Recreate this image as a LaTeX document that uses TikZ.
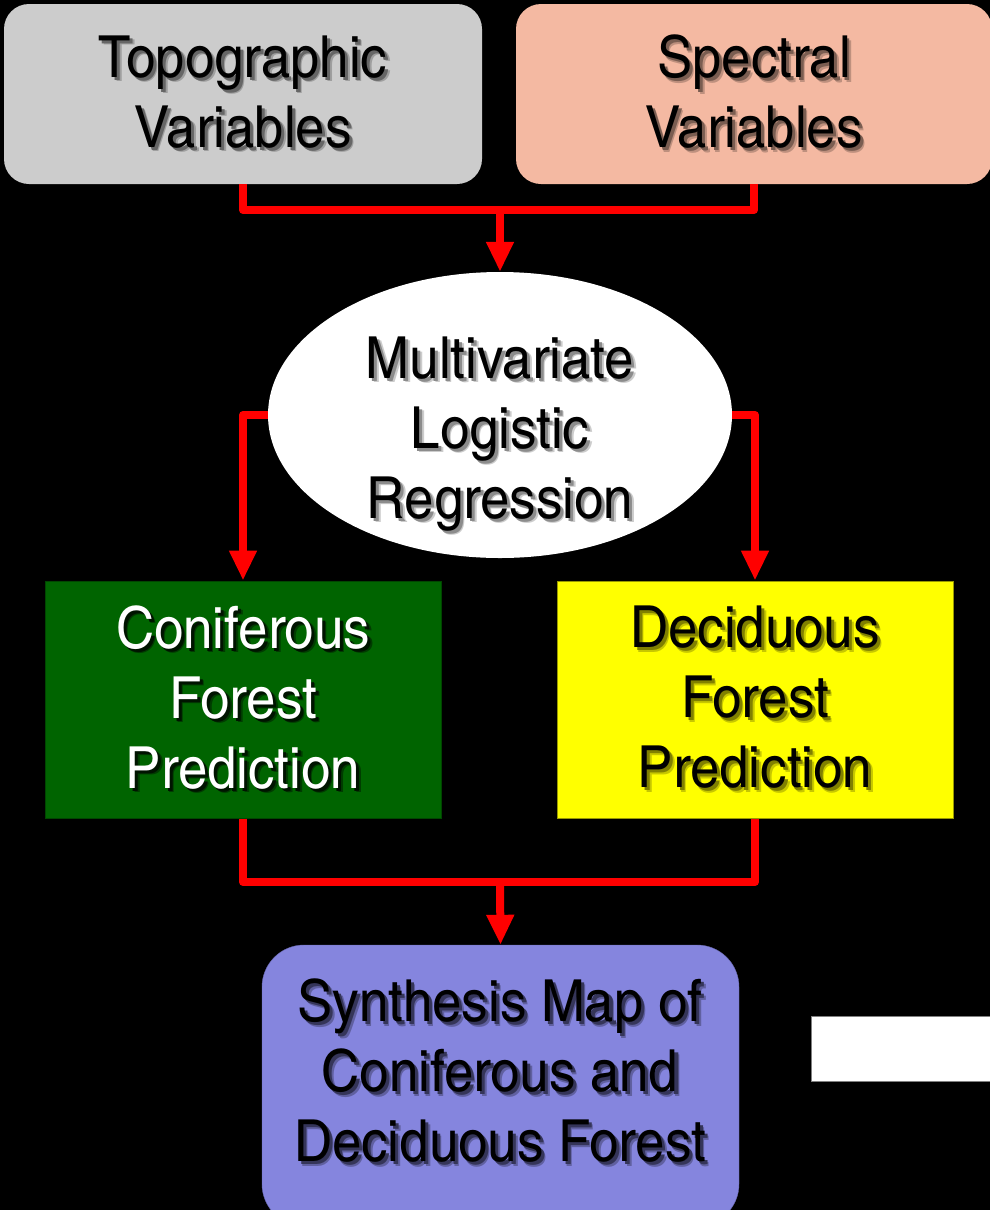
\documentclass[tikz,border=0pt]{standalone}
\usepackage{fontspec}
\setmainfont{texgyreheroscn}[Extension=.otf, UprightFont=*-regular, BoldFont=*-bold, FakeStretch=1.11]
\usetikzlibrary{shapes.geometric,arrows.meta}

\definecolor{topofill}{HTML}{CCCCCC}
\definecolor{specfill}{HTML}{F4B9A2}
\definecolor{conifill}{HTML}{006400}
\definecolor{decifill}{HTML}{FFFF00}
\definecolor{synfill}{HTML}{8585DE}
\colorlet{sdwc}{black}
\colorlet{sdwsoft}{black}
\newcommand\sdw[1]{\leavevmode
  \rlap{\kern4.5pt\raisebox{-4.5pt}{\textcolor{sdwsoft}{#1}}}%
  \rlap{\kern3pt\raisebox{-3pt}{\textcolor{sdwc}{#1}}}#1}

\begin{document}
\begin{tikzpicture}
[x=1pt, y=-1pt,
 every node/.style={inner sep=0pt, align=center, font=\fontsize{58}{70}\selectfont},
 sdwcolor/.style 2 args={execute at begin node={\colorlet{sdwc}{#1}\colorlet{sdwsoft}{#2}}},
 varbox/.style={rectangle, rounded corners=25pt, minimum width=#1, minimum height=180pt},
 predbox/.style={rectangle, minimum width=396pt, minimum height=237pt, line width=1pt},
 link/.style={line width=8pt, color=red, line join=round},
 flow/.style={link, -{Triangle[length=30pt, width=26pt]}}]
\useasboundingbox (0,0) rectangle (990,1210);
\fill [black] (0,0) rectangle (990,1210);

\node (topo) [varbox=478pt, fill=topofill, sdwcolor={black!50!topofill}{black!22!topofill}] at (243, 94) {\sdw{Topographic}\\\sdw{Variables}};
\node (spec) [varbox=476pt, fill=specfill, sdwcolor={black!50!specfill}{black!22!specfill}] at (754, 94) {\sdw{Spectral}\\\sdw{Variables}};
\node (mlr) [ellipse, fill=white, minimum width=464pt, minimum height=286pt] at (500, 415) {};
\node (mlrtext) [sdwcolor={black!45}{black!20}] at (500, 436) {\sdw{Multivariate}\\\sdw{Logistic}\\\sdw{Regression}};
\node (conif) [predbox, fill=conifill, draw=conifill!70!black, text=white, sdwcolor={black!80!conifill}{black!40!conifill}] at (243, 699.5) {\sdw{Coniferous}\\\sdw{Forest}\\\sdw{Prediction}};
\node (decid) [predbox, fill=decifill, draw=decifill!60!black, sdwcolor={black!50!decifill}{black!22!decifill}] at (755, 699.5) {\sdw{Deciduous}\\\sdw{Forest}\\\sdw{Prediction}};
\node (synth) [rectangle, rounded corners=42pt, fill=synfill, draw=synfill!80!black, minimum width=477pt, minimum height=281pt] at (500.5, 1085.5) {};
\node (synthtext) [sdwcolor={black!60!synfill}{black!28!synfill}] at (500, 1073) {\sdw{Synthesis Map of}\\\sdw{Coniferous and}\\\sdw{Deciduous Forest}};
\node (panel) [rectangle, fill=white, draw=gray, line width=1pt, minimum width=181pt, minimum height=65pt] at (901.5, 1048.5) {};

\coordinate (topjoin) at (500, 210);
\coordinate (botjoin) at (500, 882);

\draw [link] (topo.south) |- (topjoin) -| (spec.south);
\draw [flow] (topjoin) -- (mlr.north);
\draw [flow] (mlr.west) -| (conif.north);
\draw [flow] (mlr.east) -| (decid.north);
\draw [link] (conif.south) |- (botjoin) -| (decid.south);
\draw [flow] (botjoin) -- (synth.north);
\end{tikzpicture}
\end{document}
